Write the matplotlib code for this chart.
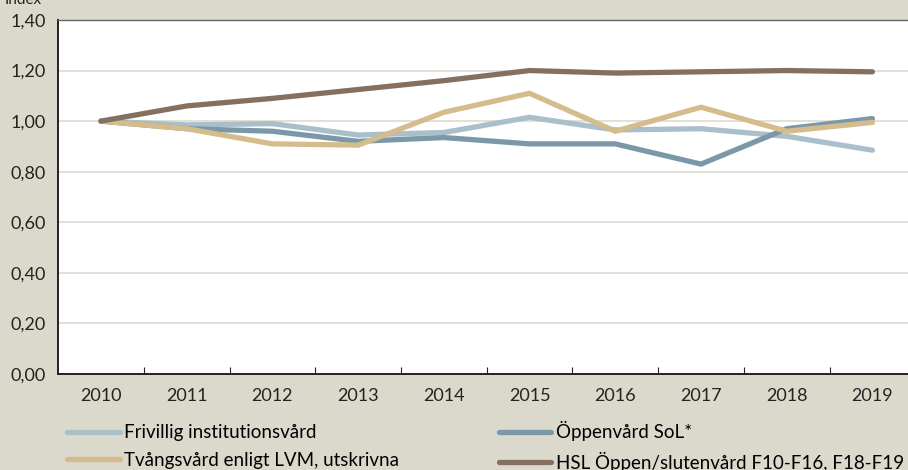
import matplotlib.pyplot as plt
import numpy as np

plt.rcParams['font.family'] = ['Lato', 'DejaVu Sans']

# Data
years = ['2010', '2011', '2012', '2013', '2014', '2015', '2016', '2017', '2018', '2019']
frivillig = [1.00, 0.985, 0.99, 0.945, 0.955, 1.015, 0.965, 0.97, 0.94, 0.885]
oppenvard = [1.00, 0.97, 0.96, 0.92, 0.935, 0.91, 0.91, 0.83, 0.97, 1.01]
tvangsvard = [1.00, 0.97, 0.91, 0.905, 1.035, 1.11, 0.96, 1.055, 0.96, 0.995]
hsl = [1.00, 1.06, 1.09, 1.125, 1.16, 1.20, 1.19, 1.195, 1.20, 1.195]

labels = ['Frivillig institutionsvård', 'Tvångsvård enligt LVM, utskrivna',
          'Öppenvård SoL*', 'HSL Öppen/slutenvård F10-F16, F18-F19']
colors = ['#a9bfca', '#d4bc8c', '#7b98a8', '#857060']
series = [frivillig, tvangsvard, oppenvard, hsl]

bg = '#dbd9cc'
fig = plt.figure(figsize=(9.08, 4.70), dpi=100, facecolor=bg)
ax = fig.add_axes([0.064, 0.2043, 0.944, 0.7532])
ax.set_facecolor('white')

x = np.arange(len(years))
lines = {}
# draw in z-order: light blue, blue, tan, brown
for idx in [0, 2, 1, 3]:
    lines[idx], = ax.plot(x, series[idx], color=colors[idx], lw=3.8, solid_capstyle='round',
                          solid_joinstyle='round', label=labels[idx])

ax.set_xlim(-0.5, 9.5)
ax.set_ylim(0, 1.4)
ax.set_yticks(np.arange(0, 1.41, 0.2))
ax.set_yticklabels([f'{v:.2f}'.replace('.', ',') for v in np.arange(0, 1.41, 0.2)],
                   fontsize=13, color='#222222')
ax.yaxis.grid(True, color='#dedad0', lw=1.2)
ax.set_axisbelow(True)
ax.tick_params(axis='y', length=0, pad=9)

ax.set_xticks(np.arange(0.5, 9.5, 1))
ax.set_xticklabels([])
ax.set_xticks(x, minor=True)
ax.set_xticklabels(years, minor=True, fontsize=13, color='#222222')
ax.tick_params(axis='x', which='major', direction='in', length=5, color='#222222')
ax.tick_params(axis='x', which='minor', length=0, pad=10)

for s in ['left', 'bottom']:
    ax.spines[s].set_color('#222222')
    ax.spines[s].set_linewidth(1.4)
ax.spines['top'].set_color('#666666')
ax.spines['top'].set_linewidth(1.0)
ax.spines['right'].set_visible(False)

fig.text(0.005, 1.0, 'Index', fontsize=11, color='#222222', va='center', ha='left')

order = [0, 1, 2, 3]
fig.legend([lines[i] for i in order], [labels[i] for i in order], ncol=2,
           loc='upper left', bbox_to_anchor=(0.074, 0.1035), frameon=False,
           fontsize=13.5, handlelength=2.8, handletextpad=0.25, labelspacing=0.54,
           columnspacing=5.3, borderpad=0, borderaxespad=0)

fig.savefig('out.png', dpi=100, facecolor=bg)
